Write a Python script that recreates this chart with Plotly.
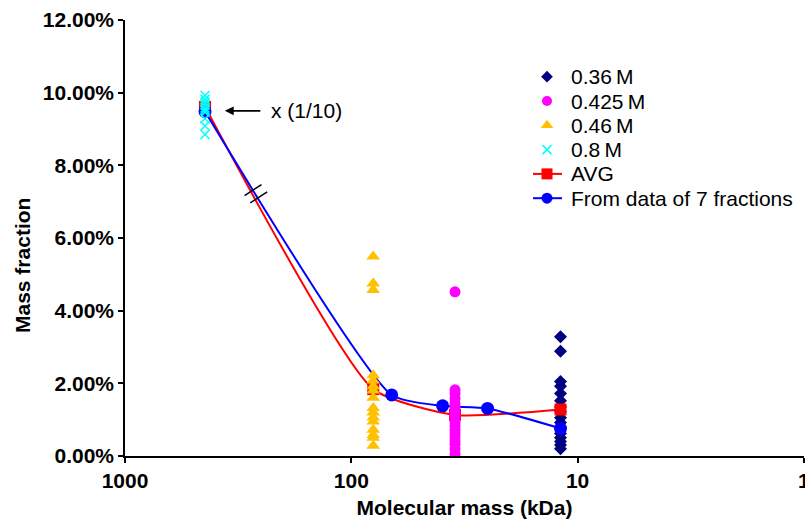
import numpy as np
import plotly.graph_objects as go

# Molecular mass positions (kDa) of each fraction group
mw_036 = 11.9
mw_0425 = 34.8
mw_046 = 80.0
mw_08 = 443.0

# Individual mass-fraction readings (%), one list per salt concentration
pct_036 = [3.28, 2.88, 2.05, 1.92, 1.72, 1.52, 1.35, 1.22, 1.05, 0.92, 0.78,
           0.62, 0.50, 0.40, 0.30, 0.20]
pct_0425 = [4.52, 1.82, 1.72, 1.58, 1.45, 1.33, 1.22, 1.12, 1.02, 0.92, 0.82,
            0.72, 0.62, 0.52, 0.42, 0.32, 0.20, 0.06]
pct_046 = [5.49, 4.75, 4.57, 2.22, 2.08, 1.92, 1.80, 1.60, 1.32, 1.20, 1.06,
           0.95, 0.72, 0.58, 0.50, 0.28]
pct_08 = [9.92, 9.82, 9.74, 9.66, 9.58, 9.52, 9.46, 9.28, 9.08, 8.85]

# Averaged curve
avg_mw = [443.0, 80.0, 34.8, 11.9]
avg_pct = [9.61, 1.84, 1.13, 1.28]

# Curve derived from the fraction data
frac_mw = [443.0, 66.3, 39.5, 25.0, 11.9]
frac_pct = [9.48, 1.68, 1.38, 1.31, 0.76]

# Axis extents
x_decades = (3.0, -0.0005)   # log10(kDa), 1000 on the left, 1 on the right
y_max = 0.12

# Decorations: "x (1/10)" note and the axis-break slashes
note_text = "x (1/10)"
note_tip = (362.0, 9.50)      # (kDa, %) arrow tip
note_text_at = (232.0, 9.50)  # (kDa, %) left edge of note text
break_center = (264.0, 7.22)  # (kDa, %)

# Legend entries, top to bottom
legend_names = ["0.36\u2009M", "0.425\u2009M", "0.46\u2009M", "0.8\u2009M", "AVG",
                "From data of 7 fractions"]

FONT = "Liberation Sans, Arial, Helvetica, sans-serif"
NAVY, MAGENTA, AMBER, CYAN, RED, BLUE = ("#000080", "#FF00FF", "#FFC000",
                                          "#00FFFF", "#FF0000", "#0000FF")
W, H = 805, 521
M = dict(l=125, r=1, t=20, b=65)
plot_w = W - M["l"] - M["r"]
plot_h = H - M["t"] - M["b"]


def to_paper(kda, pct):
    xp = (x_decades[0] - np.log10(kda)) / (x_decades[0] - x_decades[1])
    yp = (pct / 100.0) / y_max
    return float(xp), float(yp)


def frac(v):
    return np.asarray(v, dtype=float) / 100.0


fig = go.Figure()

fig.add_trace(go.Scatter(
    x=[mw_036] * len(pct_036), y=frac(pct_036), mode="markers",
    marker=dict(symbol="diamond", size=10, color=NAVY)))
fig.add_trace(go.Scatter(
    x=avg_mw, y=frac(avg_pct), mode="lines+markers",
    line=dict(color=RED, width=2, shape="spline", smoothing=0.55),
    marker=dict(symbol="square", size=12, color=RED)))
fig.add_trace(go.Scatter(
    x=frac_mw, y=frac(frac_pct), mode="lines+markers",
    line=dict(color=BLUE, width=2, shape="spline", smoothing=0.55),
    marker=dict(symbol="circle", size=13, color=BLUE)))
fig.add_trace(go.Scatter(
    x=[mw_0425] * len(pct_0425), y=frac(pct_0425), mode="markers",
    marker=dict(symbol="circle", size=11, color=MAGENTA)))
fig.add_trace(go.Scatter(
    x=[mw_046] * len(pct_046), y=frac(pct_046), mode="markers",
    marker=dict(symbol="triangle-up", size=12, color=AMBER)))
fig.add_trace(go.Scatter(
    x=[mw_08] * len(pct_08), y=frac(pct_08), mode="markers",
    marker=dict(symbol="x-thin", size=9, color=CYAN,
                line=dict(color=CYAN, width=1.5))))

# Legend, drawn on a pixel-scaled overlay axis pair
leg_top, leg_step = 456 - 76.7, 24.3          # plot-pixel y of first row, row pitch
leg_sym_x, leg_line = 547 - 125, (533 - 125, 562 - 125)
leg_text_x = 569 - 125
leg_styles = [
    dict(symbol="diamond", size=9, color=NAVY),
    dict(symbol="circle", size=10, color=MAGENTA),
    dict(symbol="triangle-up", size=11, color=AMBER),
    dict(symbol="x-thin", size=9, color=CYAN, line=dict(color=CYAN, width=1.5)),
    dict(symbol="square", size=11, color=RED),
    dict(symbol="circle", size=11, color=BLUE),
]
leg_lines = [None, None, None, None, RED, BLUE]
annotations = []
for i, (name, sty, lc) in enumerate(zip(legend_names, leg_styles, leg_lines)):
    yy = leg_top - i * leg_step
    if lc:
        fig.add_trace(go.Scatter(x=list(leg_line), y=[yy, yy], mode="lines",
                                 line=dict(color=lc, width=2),
                                 xaxis="x2", yaxis="y2"))
    fig.add_trace(go.Scatter(x=[leg_sym_x], y=[yy], mode="markers", marker=sty,
                             xaxis="x2", yaxis="y2"))
    annotations.append(dict(xref="paper", yref="paper", x=leg_text_x / plot_w,
                            y=yy / plot_h, text=name, showarrow=False,
                            xanchor="left", yanchor="middle",
                            font=dict(family=FONT, size=21, color="black")))

# Axis-break slashes across the two curves
shapes = []
cx, cy = to_paper(*break_center)
for off in (-4.6, 4.6):
    ox, oy = off * 0.62, -off * 0.79
    px0, py0 = cx * plot_w + ox, cy * plot_h + oy
    shapes.append(dict(
        type="line", xref="paper", yref="paper",
        x0=(px0 - 8.5) / plot_w, y0=(py0 - 5.5) / plot_h,
        x1=(px0 + 8.5) / plot_w, y1=(py0 + 5.5) / plot_h,
        line=dict(color="black", width=1.5)))

tip_x, tip_y = to_paper(*note_tip)
txt_x, txt_y = to_paper(*note_text_at)

annotations += [
    dict(xref="paper", yref="paper", x=tip_x, y=tip_y, text="",
         showarrow=True, axref="pixel", ayref="pixel", ax=37, ay=0,
         arrowhead=2, arrowsize=1.1, arrowwidth=1.6, arrowcolor="black"),
    dict(xref="paper", yref="paper", x=txt_x, y=txt_y, text=note_text,
         showarrow=False, xanchor="left", yanchor="middle",
         font=dict(family=FONT, size=21, color="black")),
    dict(xref="paper", yref="paper", x=-103 / plot_w, y=(456 - 266) / plot_h,
         text="Mass fraction", textangle=-90, showarrow=False,
         xanchor="center", yanchor="middle",
         font=dict(family=FONT, size=21, color="black", weight="bold")),
]

fig.update_layout(
    width=W, height=H, margin=M,
    paper_bgcolor="white", plot_bgcolor="white",
    font=dict(family=FONT, size=21, color="black"),
    shapes=shapes, annotations=annotations,
    showlegend=False,
    xaxis=dict(
        type="log", range=list(x_decades), automargin=False,
        tickvals=[1000, 100, 10, 1], ticktext=["1000", "100", "10", "1"],
        ticklabeloverflow="allow",
        showgrid=False, zeroline=False, showline=True, linecolor="black", linewidth=1.5,
        ticks="outside", ticklen=5, tickwidth=1.5, tickcolor="black",
        tickfont=dict(family=FONT, size=21, weight="bold"),
        title=dict(text="Molecular mass (kDa)", standoff=9,
                   font=dict(family=FONT, size=21, weight="bold")),
    ),
    yaxis=dict(
        range=[0, y_max], dtick=0.02, tickformat=".2%", automargin=False,
        showgrid=False, zeroline=False, showline=True, linecolor="black", linewidth=1.5,
        ticks="outside", ticklen=5, tickwidth=1.5, tickcolor="black",
        tickfont=dict(family=FONT, size=21, weight="bold"),
    ),
    xaxis2=dict(overlaying="x", range=[0, plot_w], visible=False, fixedrange=True),
    yaxis2=dict(overlaying="y", range=[0, plot_h], visible=False, fixedrange=True),
)

fig.write_html("out.html")
